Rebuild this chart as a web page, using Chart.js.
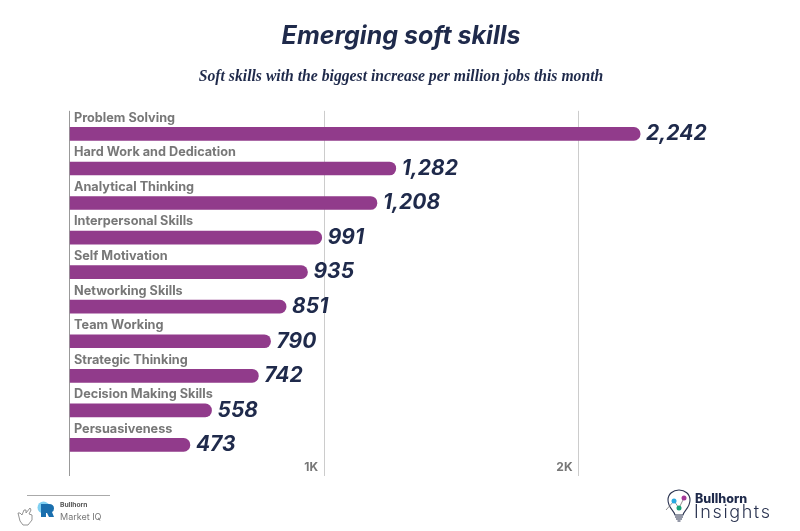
<!DOCTYPE html>
<html><head><meta charset="utf-8">
<script src="https://cdn.jsdelivr.net/npm/chart.js@4"></script>
<style>
html,body{margin:0;padding:0;background:#fff;width:800px;height:531px;overflow:hidden}
#wrap{position:absolute;left:0;top:0;width:800px;height:531px}
.t{position:absolute;white-space:nowrap;font-family:Inter,"Open Sans",sans-serif}
svg{position:absolute}
</style></head><body>
<div id="wrap"><canvas id="c" width="800" height="531"></canvas></div>
<div style="position:absolute;left:27px;top:495px;width:83px;height:1px;background:#aaa"></div>
<svg style="left:17px;top:505px" width="16" height="21" viewBox="0 0 16 21"><path d="M2 12 L1 8 L3 8 L5 10 L7 5 L9 5 L9 8 L13 3 L14 5 L12 9 L15 10 L15 15 L11 20 L6 20 L3 16 Z" fill="#fff" stroke="#888" stroke-width="0.900"/></svg>
<svg style="left:36px;top:500px" width="20" height="20" viewBox="0 0 20 20"><circle cx="7.500" cy="7.500" r="6" fill="#7fd0f2"/><path d="M5 4 H13 Q18 4 18 8.500 Q18 11 16 12 L18 17 H13 L11 13 H10 V17 H5 Z" fill="#1a6fae"/></svg>
<div class="t" style="left:60px;top:501px;font-size:6.700px;font-weight:700;color:#555">Bullhorn</div>
<div class="t" style="left:60px;top:511px;font-size:9px;color:#777">Market IQ</div>
<svg style="left:664px;top:488px" width="30" height="36" viewBox="0 0 30 36"><path d="M11 27 C10 22 4 20 4 12 C4 6 9 2 15 2 C21 2 26 6 26 12 C26 20 20 22 19 27 Z" fill="none" stroke="#2a3350" stroke-width="1.100"/><path d="M11 29 H19 M12 31 H18 M13.500 33 H16.500" stroke="#2a3350" stroke-width="1.200"/><path d="M2 22 L10 13 L15 20 L20 10" fill="none" stroke="#777" stroke-width="0.800"/><circle cx="10" cy="13" r="2.500" fill="#29a9e0"/><circle cx="15" cy="20" r="2.500" fill="#1aa37a"/><circle cx="20" cy="10" r="2.500" fill="#a3399a"/></svg>
<div class="t" style="left:695px;top:491px;font-size:12.500px;font-weight:800;color:#1f2a4b">Bullhorn</div>
<div class="t" style="left:694px;top:501px;font-size:18px;font-weight:300;letter-spacing:1.600px;color:#2a3350">Insights</div>
<script>
const categories = ["Problem Solving","Hard Work and Dedication","Analytical Thinking","Interpersonal Skills","Self Motivation","Networking Skills","Team Working","Strategic Thinking","Decision Making Skills","Persuasiveness"];
const values = [2242,1282,1208,991,935,851,790,742,558,473];
const xTickLabels = {1000:"1K",2000:"2K"};
const titleText = "Emerging soft skills";
const subtitleText = "Soft skills with the biggest increase per million jobs this month";
const points = values.map((v,i)=>({x:v,y:i}));

const valueLabels = {
  id:'valueLabels',
  afterDatasetsDraw(chart){
    const {ctx} = chart;
    ctx.save();
    ctx.font = 'italic 700 21px Inter, "Open Sans", sans-serif';
    ctx.fillStyle = '#1f2a4b';
    ctx.textAlign = 'left';
    ctx.textBaseline = 'middle';
    chart.getDatasetMeta(0).data.forEach((bar,i)=>{
      ctx.fillText(values[i].toLocaleString('en-US'), bar.x+6, bar.y);
    });
    ctx.restore();
  }
};

new Chart(document.getElementById('c'),{
  type:'bar',
  data:{datasets:[{data:points,backgroundColor:'#913b8b',barThickness:13,borderSkipped:false,
    borderRadius:{topLeft:0,bottomLeft:0,topRight:6.5,bottomRight:6.5}}]},
  plugins:[valueLabels],
  options:{
    indexAxis:'y',responsive:false,animation:false,devicePixelRatio:1,
    layout:{padding:{left:69.5,right:67.5,top:0,bottom:55}},
    plugins:{
      legend:{display:false},tooltip:{enabled:false},
      title:{display:true,text:titleText,color:'#1f2a4b',font:{family:'Inter, "Open Sans", sans-serif',size:25,weight:'700',style:'italic'},padding:{top:21,bottom:0}},
      subtitle:{display:true,text:subtitleText,color:'#1f2a4b',font:{family:'"Liberation Serif", serif',size:15.7,style:'italic',weight:'700'},padding:{top:17,bottom:24}}
    },
    scales:{
      x:{type:'linear',min:0,max:2605,position:'bottom',
        afterBuildTicks(s){s.ticks=[{value:0},{value:1000},{value:2000}];},
        border:{display:false},
        grid:{drawTicks:false,color:c=>c.tick&&c.tick.value===0?'#999':'#ccc',lineWidth:1},
        ticks:{align:'end',padding:-16,labelOffset:-6,maxRotation:0,color:'#777',font:{family:'Inter, "Open Sans", sans-serif',size:12,weight:'700'},
          callback:v=>xTickLabels[v]||''}
      },
      y:{type:'linear',reverse:true,offset:false,min:-0.668,max:9.9,
        afterBuildTicks(s){s.ticks=categories.map((_,i)=>({value:i}));},
        afterFit(s){s.width=0;},
        border:{display:false},grid:{display:false,drawTicks:false},
        ticks:{mirror:true,padding:4.5,labelOffset:-16,autoSkip:false,color:'#777',
          font:{family:'Inter, "Open Sans", sans-serif',size:12.7,weight:'700'},
          callback:v=>categories[v]||''}
      }
    }
  }
});
</script>
</body></html>
